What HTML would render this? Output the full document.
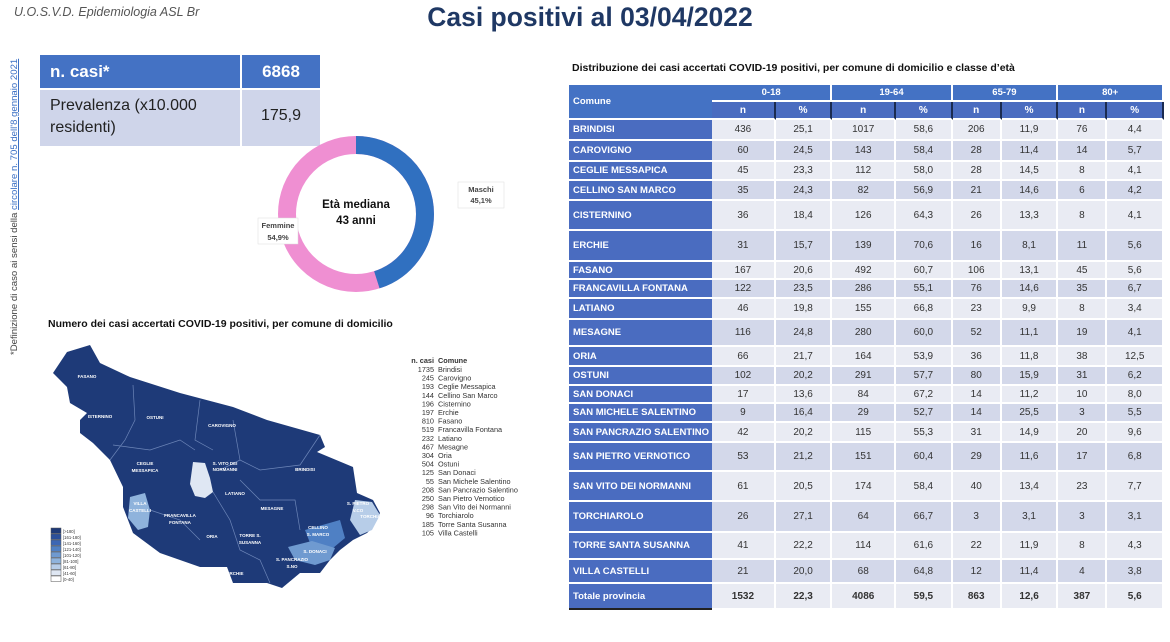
<!DOCTYPE html>
<html><head><meta charset="utf-8"><style>
*{margin:0;padding:0;box-sizing:border-box}
body{width:1170px;height:642px;background:#fff;position:relative;overflow:hidden;font-family:"Liberation Sans",sans-serif}
.a{position:absolute}
table.t{position:absolute;left:569px;top:85px;width:595px;border-collapse:separate;border-spacing:0;font-size:10px}
table.t td{text-align:center;color:#333;border-right:2px solid #fff;border-bottom:2px solid #fff;padding:0}
table.t td.c{background:#4a6cc0 !important;color:#fff !important;font-weight:bold;text-align:left;padding-left:4px;font-size:9.5px;border-right:none;border-bottom:2px solid #fff;width:143px}
table.t tr.h td{background:#4472c4;color:#fff;font-weight:bold;font-size:9.5px}
table.t tr.h2 td{background:#4a6cc0;color:#fff;font-weight:bold;border-right:2px solid #1a2a50}
table.t tr.w td{background:#e9ebf3}
table.t tr.g td{background:#d3d8ea}
table.t tr.tot td{font-weight:bold;background:#e9ebf3}
</style></head><body>
<div class="a" style="left:14px;top:5px;font-size:12.5px;font-style:italic;color:#555">U.O.S.V.D. Epidemiologia ASL Br</div>
<div class="a" style="left:340px;top:2px;width:500px;text-align:center;font-size:26.5px;font-weight:bold;color:#1f3864">Casi positivi al 03/04/2022</div>
<div class="a" style="left:9px;top:355px;transform:rotate(-90deg);transform-origin:0 0;font-size:9.6px;color:#444;white-space:nowrap;width:310px">*Definizione di caso ai sensi della <span style="color:#3a6fc4;text-decoration:underline">circolare n. 705 dell'8 gennaio 2021</span></div>

<div class="a" style="left:40px;top:55px;width:200px;height:33px;background:#4472c4;color:#fff;font-weight:bold;font-size:17px;padding:7px 0 0 10px">n. casi*</div>
<div class="a" style="left:242px;top:55px;width:78px;height:33px;background:#4472c4;color:#fff;font-weight:bold;font-size:17px;text-align:center;padding-top:7px">6868</div>
<div class="a" style="left:40px;top:90px;width:200px;height:56px;background:#cfd5ea;color:#222;font-size:16px;padding:5px 0 0 10px;line-height:22px">Prevalenza (x10.000 residenti)</div>
<div class="a" style="left:242px;top:90px;width:78px;height:56px;background:#cfd5ea;color:#222;font-size:16px;text-align:center;padding-top:17px">175,9</div>

<svg class="a" style="left:0;top:0" width="560" height="642">
<circle cx="356" cy="214" r="69" fill="none" stroke="#ef8fd2" stroke-width="18"/>
<circle cx="356" cy="214" r="69" fill="none" stroke="#3070c0" stroke-width="18" stroke-dasharray="195.5 500" transform="rotate(-90 356 214)"/>
<rect x="458" y="182" width="46" height="26" fill="#fff" stroke="#ddd" stroke-width="0.5"/>
<text x="481" y="192" font-size="7.5" font-weight="bold" fill="#444" text-anchor="middle" font-family="Liberation Sans">Maschi</text>
<text x="481" y="203" font-size="7.5" font-weight="bold" fill="#444" text-anchor="middle" font-family="Liberation Sans">45,1%</text>
<rect x="258" y="218" width="40" height="26" fill="#fff" stroke="#ddd" stroke-width="0.5"/>
<text x="278" y="228" font-size="7.5" font-weight="bold" fill="#444" text-anchor="middle" font-family="Liberation Sans">Femmine</text>
<text x="278" y="240" font-size="7.5" font-weight="bold" fill="#444" text-anchor="middle" font-family="Liberation Sans">54,9%</text>
<text x="356" y="208" font-size="11.5" font-weight="bold" fill="#111" text-anchor="middle" font-family="Liberation Sans">Età mediana</text>
<text x="356" y="224" font-size="11.5" font-weight="bold" fill="#111" text-anchor="middle" font-family="Liberation Sans">43 anni</text>

<text x="48" y="327" font-size="10.5" font-weight="bold" fill="#111" font-family="Liberation Sans">Numero dei casi accertati COVID-19 positivi, per comune di domicilio</text>

<polygon fill="#1e3a78" points="67,352 90,345 100,363 130,377 180,393 233,407 267,420 320,435 325,447 317,452 353,467 357,493 373,500 380,513 373,527 367,533 353,540 340,550 330,560 320,573 300,573 282,588 267,583 233,583 227,567 200,567 160,553 133,533 123,507 123,487 110,460 93,443 80,433 80,420 87,413 70,403 67,387 53,373"/>
<polygon fill="#8fb3dc" points="130,497 145,493 150,510 148,527 138,530 128,518"/>
<polygon fill="#dfe7f3" points="193,462 205,463 210,478 213,492 205,498 195,496 190,484"/>
<polygon fill="#b7cde8" points="355,500 372,502 380,515 372,530 360,535 350,520"/>
<polygon fill="#4f80c4" points="305,530 340,520 345,538 333,548 310,543"/>
<polygon fill="#6f9ad0" points="288,547 312,541 335,548 330,560 315,565 295,560"/>
<g stroke="#6d86b8" stroke-width="0.7" fill="none">
<path d="M133,385 L135,420 L125,440 L110,460"/><path d="M200,400 L195,440 L213,450"/><path d="M233,420 L240,460 L220,470"/>
<path d="M113,445 L150,450 L180,440 L195,450"/><path d="M240,460 L260,470 L300,465 L320,435"/><path d="M150,510 L180,520 L200,540"/>
<path d="M213,492 L230,520 L240,550 L260,560 L270,583"/><path d="M240,480 L260,500 L295,500 L300,530"/>
</g>
<g font-size="4.5" fill="#fff" font-weight="bold" font-family="Liberation Sans" text-anchor="middle">
<text x="87" y="378">FASANO</text><text x="100" y="418">ISTERNINO</text><text x="155" y="419">OSTUNI</text><text x="222" y="427">CAROVIGNO</text>
<text x="225" y="465">S. VITO DEI</text><text x="225" y="471">NORMANNI</text><text x="145" y="465">CEGLIE</text><text x="145" y="472">MESSAPICA</text>
<text x="305" y="471">BRINDISI</text><text x="235" y="495">LATIANO</text><text x="272" y="510">MESAGNE</text><text x="180" y="517">FRANCAVILLA</text><text x="180" y="524">FONTANA</text>
<text x="212" y="538">ORIA</text><text x="250" y="537">TORRE S.</text><text x="250" y="544">SUSANNA</text><text x="292" y="561">S. PANCRAZIO</text><text x="292" y="568">S.NO</text><text x="235" y="575">ERCHIE</text>
<text x="358" y="505">S. PIETRO</text><text x="358" y="512">V.CO</text><text x="377" y="518">TORCHIAROLO</text><text x="140" y="505">VILLA</text><text x="140" y="512">CASTELLI</text>
<text x="318" y="529">CELLINO</text><text x="318" y="536">S. MARCO</text><text x="315" y="553">S. DONACI</text>
</g>
<g stroke="#555" stroke-width="0.5">
<rect x="51" y="528" width="10" height="5.5" fill="#1e3a78"/><rect x="51" y="534" width="10" height="5.5" fill="#2b4f9a"/><rect x="51" y="540" width="10" height="5.5" fill="#3c66b4"/><rect x="51" y="546" width="10" height="5.5" fill="#5080c4"/><rect x="51" y="552" width="10" height="5.5" fill="#6f9ad0"/><rect x="51" y="558" width="10" height="5.5" fill="#8fb3dc"/><rect x="51" y="564" width="10" height="5.5" fill="#b7cde8"/><rect x="51" y="570" width="10" height="5.5" fill="#dfe7f3"/><rect x="51" y="576" width="10" height="5.5" fill="#fff"/>
</g>
<g font-size="4.2" fill="#333" font-family="Liberation Sans"><text x="63" y="533">[&gt;180]</text><text x="63" y="539">[161-180]</text><text x="63" y="545">[141-160]</text><text x="63" y="551">[121-140]</text><text x="63" y="557">[101-120]</text><text x="63" y="563">[81-100]</text><text x="63" y="569">[61-80]</text><text x="63" y="575">[41-60]</text><text x="63" y="581">[0-40]</text></g>
<g font-size="7.3" fill="#333" font-family="Liberation Sans">
<text x="434" y="363" text-anchor="end" font-weight="bold">n. casi</text><text x="438" y="363" font-weight="bold">Comune</text>
<text x="434" y="372" text-anchor="end">1735</text><text x="438" y="372">Brindisi</text>
<text x="434" y="380.6" text-anchor="end">245</text><text x="438" y="380.6">Carovigno</text>
<text x="434" y="389.2" text-anchor="end">193</text><text x="438" y="389.2">Ceglie Messapica</text>
<text x="434" y="397.8" text-anchor="end">144</text><text x="438" y="397.8">Cellino San Marco</text>
<text x="434" y="406.4" text-anchor="end">196</text><text x="438" y="406.4">Cisternino</text>
<text x="434" y="415" text-anchor="end">197</text><text x="438" y="415">Erchie</text>
<text x="434" y="423.6" text-anchor="end">810</text><text x="438" y="423.6">Fasano</text>
<text x="434" y="432.2" text-anchor="end">519</text><text x="438" y="432.2">Francavilla Fontana</text>
<text x="434" y="440.8" text-anchor="end">232</text><text x="438" y="440.8">Latiano</text>
<text x="434" y="449.4" text-anchor="end">467</text><text x="438" y="449.4">Mesagne</text>
<text x="434" y="458" text-anchor="end">304</text><text x="438" y="458">Oria</text>
<text x="434" y="466.6" text-anchor="end">504</text><text x="438" y="466.6">Ostuni</text>
<text x="434" y="475.2" text-anchor="end">125</text><text x="438" y="475.2">San Donaci</text>
<text x="434" y="483.8" text-anchor="end">55</text><text x="438" y="483.8">San Michele Salentino</text>
<text x="434" y="492.4" text-anchor="end">208</text><text x="438" y="492.4">San Pancrazio Salentino</text>
<text x="434" y="501" text-anchor="end">250</text><text x="438" y="501">San Pietro Vernotico</text>
<text x="434" y="509.6" text-anchor="end">298</text><text x="438" y="509.6">San Vito dei Normanni</text>
<text x="434" y="518.2" text-anchor="end">96</text><text x="438" y="518.2">Torchiarolo</text>
<text x="434" y="526.8" text-anchor="end">185</text><text x="438" y="526.8">Torre Santa Susanna</text>
<text x="434" y="535.4" text-anchor="end">105</text><text x="438" y="535.4">Villa Castelli</text>
</g>
</svg>

<div class="a" style="left:572px;top:62px;font-size:10.5px;font-weight:bold;color:#111">Distribuzione dei casi accertati COVID-19 positivi, per comune di domicilio e classe d’età</div>

<table class="t">
<tr class="h" style="height:17px"><td class="c" rowspan="2" style="background:#4472c4 !important;vertical-align:middle">Comune</td><td colspan="2">0-18</td><td colspan="2">19-64</td><td colspan="2">65-79</td><td colspan="2">80+</td></tr>
<tr class="h2" style="height:18px"><td>n</td><td>%</td><td>n</td><td>%</td><td>n</td><td>%</td><td>n</td><td>%</td></tr>
<tr class="w" style="height:21px"><td class="c">BRINDISI</td><td>436</td><td>25,1</td><td>1017</td><td>58,6</td><td>206</td><td>11,9</td><td>76</td><td>4,4</td></tr>
<tr class="g" style="height:21px"><td class="c">CAROVIGNO</td><td>60</td><td>24,5</td><td>143</td><td>58,4</td><td>28</td><td>11,4</td><td>14</td><td>5,7</td></tr>
<tr class="w" style="height:19px"><td class="c">CEGLIE MESSAPICA</td><td>45</td><td>23,3</td><td>112</td><td>58,0</td><td>28</td><td>14,5</td><td>8</td><td>4,1</td></tr>
<tr class="g" style="height:20px"><td class="c">CELLINO SAN MARCO</td><td>35</td><td>24,3</td><td>82</td><td>56,9</td><td>21</td><td>14,6</td><td>6</td><td>4,2</td></tr>
<tr class="w" style="height:30px"><td class="c">CISTERNINO</td><td>36</td><td>18,4</td><td>126</td><td>64,3</td><td>26</td><td>13,3</td><td>8</td><td>4,1</td></tr>
<tr class="g" style="height:31px"><td class="c">ERCHIE</td><td>31</td><td>15,7</td><td>139</td><td>70,6</td><td>16</td><td>8,1</td><td>11</td><td>5,6</td></tr>
<tr class="w" style="height:18px"><td class="c">FASANO</td><td>167</td><td>20,6</td><td>492</td><td>60,7</td><td>106</td><td>13,1</td><td>45</td><td>5,6</td></tr>
<tr class="g" style="height:19px"><td class="c">FRANCAVILLA FONTANA</td><td>122</td><td>23,5</td><td>286</td><td>55,1</td><td>76</td><td>14,6</td><td>35</td><td>6,7</td></tr>
<tr class="w" style="height:21px"><td class="c">LATIANO</td><td>46</td><td>19,8</td><td>155</td><td>66,8</td><td>23</td><td>9,9</td><td>8</td><td>3,4</td></tr>
<tr class="g" style="height:27px"><td class="c">MESAGNE</td><td>116</td><td>24,8</td><td>280</td><td>60,0</td><td>52</td><td>11,1</td><td>19</td><td>4,1</td></tr>
<tr class="w" style="height:20px"><td class="c">ORIA</td><td>66</td><td>21,7</td><td>164</td><td>53,9</td><td>36</td><td>11,8</td><td>38</td><td>12,5</td></tr>
<tr class="g" style="height:19px"><td class="c">OSTUNI</td><td>102</td><td>20,2</td><td>291</td><td>57,7</td><td>80</td><td>15,9</td><td>31</td><td>6,2</td></tr>
<tr class="w" style="height:18px"><td class="c">SAN DONACI</td><td>17</td><td>13,6</td><td>84</td><td>67,2</td><td>14</td><td>11,2</td><td>10</td><td>8,0</td></tr>
<tr class="g" style="height:19px"><td class="c">SAN MICHELE SALENTINO</td><td>9</td><td>16,4</td><td>29</td><td>52,7</td><td>14</td><td>25,5</td><td>3</td><td>5,5</td></tr>
<tr class="w" style="height:20px"><td class="c">SAN PANCRAZIO SALENTINO</td><td>42</td><td>20,2</td><td>115</td><td>55,3</td><td>31</td><td>14,9</td><td>20</td><td>9,6</td></tr>
<tr class="g" style="height:29px"><td class="c">SAN PIETRO VERNOTICO</td><td>53</td><td>21,2</td><td>151</td><td>60,4</td><td>29</td><td>11,6</td><td>17</td><td>6,8</td></tr>
<tr class="w" style="height:30px"><td class="c">SAN VITO DEI NORMANNI</td><td>61</td><td>20,5</td><td>174</td><td>58,4</td><td>40</td><td>13,4</td><td>23</td><td>7,7</td></tr>
<tr class="g" style="height:31px"><td class="c">TORCHIAROLO</td><td>26</td><td>27,1</td><td>64</td><td>66,7</td><td>3</td><td>3,1</td><td>3</td><td>3,1</td></tr>
<tr class="w" style="height:27px"><td class="c">TORRE SANTA SUSANNA</td><td>41</td><td>22,2</td><td>114</td><td>61,6</td><td>22</td><td>11,9</td><td>8</td><td>4,3</td></tr>
<tr class="g" style="height:24px"><td class="c">VILLA CASTELLI</td><td>21</td><td>20,0</td><td>68</td><td>64,8</td><td>12</td><td>11,4</td><td>4</td><td>3,8</td></tr>
<tr class="tot" style="height:26px"><td class="c" style="border-bottom:2px solid #222">Totale provincia</td><td>1532</td><td>22,3</td><td>4086</td><td>59,5</td><td>863</td><td>12,6</td><td>387</td><td>5,6</td></tr>
</table>
</body></html>
